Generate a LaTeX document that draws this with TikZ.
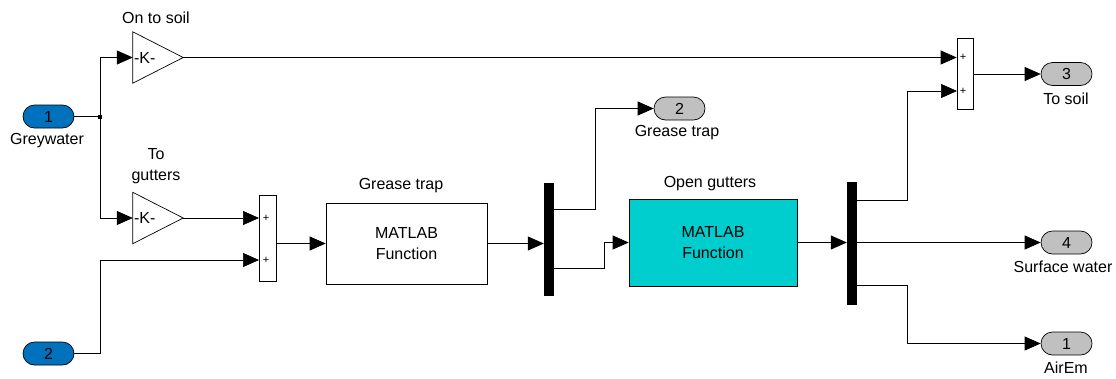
\documentclass[tikz,border=0pt]{standalone}
\usepackage{fontspec}
\setmainfont{Liberation Sans}
\usetikzlibrary{arrows.meta,calc}
\definecolor{inblue}{RGB}{0,114,189}
\definecolor{ogcyan}{RGB}{0,206,206}
\definecolor{outgray}{RGB}{192,192,192}
\tikzset{
  x=1pt, y=-1pt,
  every node/.style={font=\fontsize{16}{21}\selectfont},
  wire/.style={line width=0.7pt, black},
  arr/.style={wire, -{Triangle[length=16pt,width=14pt]}},
  inport/.style={draw, line width=0.7pt, fill=inblue, rounded corners=11.5pt, minimum width=51pt, minimum height=23pt, inner sep=0pt},
  outport/.style={draw, line width=0.7pt, fill=outgray, rounded corners=11.5pt, minimum width=51pt, minimum height=23pt, inner sep=0pt},
  fcnbox/.style={draw, line width=0.7pt, minimum width=161pt, minimum height=81pt, inner sep=0pt, align=center},
  sumbox/.style={draw, line width=0.7pt, fill=white, inner sep=0pt},
  demuxbar/.style={fill=black, draw=none, minimum width=10pt, inner sep=0pt},
  gainbox/.style={draw=none, minimum width=50pt, minimum height=51pt, inner sep=0pt},
  lbl/.style={inner sep=0pt, align=center},
  plus/.style={inner sep=0pt, font=\fontsize{11}{11}\selectfont},
}
\begin{document}
\begin{tikzpicture}
\useasboundingbox (0,0) rectangle (1116,378);

% inports
\node[inport] (in1) at (48.5,116.5) {1};
\node[lbl] (in1l) at (47,141) {Greywater};
\node[inport] (in2) at (48.5,353.5) {2};

% gains
\node[gainbox] (g1) at (158,57.5) {};
\draw[line width=0.7pt] (g1.north west) -- (g1.east) -- (g1.south west) -- cycle;
\node[anchor=west, inner sep=0pt] (g1t) at ([xshift=1pt]g1.west) {-K-};
\node[lbl] (g1l) at (156,18) {On to soil};

\node[gainbox] (g2) at (158,218) {};
\draw[line width=0.7pt] (g2.north west) -- (g2.east) -- (g2.south west) -- cycle;
\node[anchor=west, inner sep=0pt] (g2t) at ([xshift=1pt]g2.west) {-K-};
\node[lbl] (g2l) at (156,166) {To\\gutters};

% sum 1
\node[sumbox, minimum width=17pt, minimum height=86pt] (s1) at (267.5,238.5) {};
\coordinate (s1a) at (259,218);
\coordinate (s1b) at (259,260);
\node[plus] at (266,218) {+};
\node[plus] at (266,260) {+};

% grease trap block
\node[fcnbox] (gt) at (406.5,243.5) {MATLAB\\Function};
\node[lbl] (gtl) at (401,186) {Grease trap};

% demux 1
\node[demuxbar, minimum height=113pt] (dm1) at (549,239.5) {};
\coordinate (d1a) at (554,209);
\coordinate (d1b) at (554,268);

% outport 2
\node[outport] (o2) at (679.5,108.5) {2};
\node[lbl] (o2l) at (677,133) {Grease trap};

% open gutters block
\node[fcnbox, fill=ogcyan, minimum width=168pt, minimum height=87pt] (og) at (713,242.5) {MATLAB\\Function};
\node[lbl] (ogl) at (710,184) {Open gutters};

% demux 2
\node[demuxbar, minimum height=123pt] (dm2) at (852,243.5) {};
\coordinate (d2a) at (857,200);
\coordinate (d2c) at (857,285);

% sum 2
\node[sumbox, minimum width=16pt, minimum height=71pt] (s2) at (965,73.5) {};
\coordinate (s2b) at (957,91);
\node[plus] at (963,57.5) {+};
\node[plus] at (963,91) {+};

% outports 3, 4, 1
\node[outport] (o3) at (1066.5,74) {3};
\node[lbl] (o3l) at (1066,99) {To soil};
\node[outport] (o4) at (1066.5,242.5) {4};
\node[lbl] (o4l) at (1063,267) {Surface water};
\node[outport] (o1) at (1066.5,343.5) {1};
\node[lbl] (o1l) at (1066,368) {AirEm};

% junction
\coordinate (j) at (100,116.5);
\fill (j) +(-2,-2) rectangle +(2,2);

% connectors
\draw[wire] (in1.east) -- (j);
\draw[arr] (j) |- (g1.west);
\draw[arr] (j) |- (g2.west);
\draw[arr] (g2.east) -- (s1a);
\draw[arr] (in2.east) -- ++(26,0) |- (s1b);
\draw[arr] (s1.east |- gt.west) -- (gt.west);
\draw[arr] (gt.east) -- (dm1.west |- gt.east);
\draw[arr] (d1a) -- ++(41,0) |- (o2.west);
\draw[arr] (d1b) -- ++(50,0) |- (og.west);
\draw[arr] (og.east) -- (dm2.west |- og.east);
\draw[arr] (d2a) -- ++(50,0) |- (s2b);
\draw[arr] (dm2.east |- o4.west) -- (o4.west);
\draw[arr] (d2c) -- ++(50,0) |- (o1.west);
\draw[arr] (g1.east) -- (s2.west |- g1.east);
\draw[arr] (s2.east |- o3.west) -- (o3.west);
\end{tikzpicture}
\end{document}
